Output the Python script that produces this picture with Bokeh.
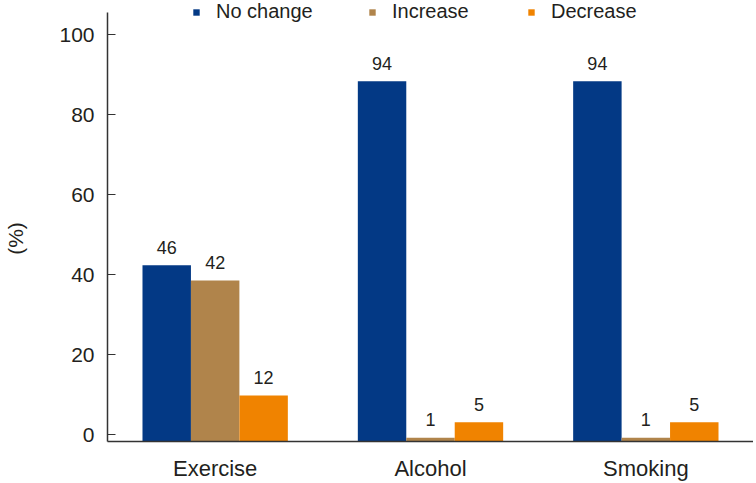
from bokeh.plotting import figure
from bokeh.models import ColumnDataSource, Range1d, FactorRange, Legend, LegendItem
from bokeh.transform import dodge
from bokeh.core.properties import value
from bokeh.embed import file_html
from bokeh.resources import INLINE

categories = ["Exercise", "Alcohol", "Smoking"]
series = ["No change", "Increase", "Decrease"]
no_change = [46, 94, 94]
increase = [42, 1, 1]
decrease = [12, 5, 5]
y_ticks = [0, 20, 40, 60, 80, 100]

colors = ["#033985", "#b0844b", "#f08300"]
FONT = "Liberation Sans"
TEXT = "#231f20"

src = ColumnDataSource(dict(
    cat=categories,
    nochange=no_change, increase=increase, decrease=decrease,
    nochange_lbl=[str(v) for v in no_change],
    increase_lbl=[str(v) for v in increase],
    decrease_lbl=[str(v) for v in decrease],
))

p = figure(width=753, height=483,
           x_range=FactorRange(*categories, range_padding=0),
           y_range=Range1d(-1.675, 108.575),
           output_backend="svg", toolbar_location=None,
           min_border_left=107, min_border_right=0,
           min_border_top=0, min_border_bottom=42)
p.extra_y_ranges = {"bars": Range1d(0, 115.1)}
p.outline_line_color = None
p.xgrid.visible = False
p.ygrid.visible = False
p.background_fill_color = "white"
p.border_fill_color = "white"

cols = ["nochange", "increase", "decrease"]
offsets = [-0.225, 0.0, 0.225]
renderers = []
for col, off, c in zip(cols, offsets, colors):
    r = p.vbar(x=dodge("cat", off, range=p.x_range), top=col, width=0.225,
               source=src, fill_color=c, line_color=None, y_range_name="bars")
    renderers.append(r)
    p.text(x=dodge("cat", off, range=p.x_range), y=col, text=col + "_lbl",
           source=src, y_range_name="bars", text_align="center",
           text_baseline="alphabetic", y_offset=-18,
           text_font=value(FONT), text_font_size="18px", text_color=TEXT)

# axes
p.xaxis.major_tick_line_color = None
p.xaxis.minor_tick_line_color = None
p.xaxis.axis_line_color = "#333333"
p.xaxis.axis_line_width = 1.5
p.xaxis.major_label_text_font = FONT
p.xaxis.major_label_text_font_size = "22px"
p.xaxis.major_label_text_color = TEXT
p.xaxis.major_label_standoff = 8

p.yaxis.ticker = y_ticks
p.yaxis.bounds = (-1.675, 105.575)
p.yaxis.major_tick_in = 8
p.yaxis.major_tick_out = 0
p.yaxis.minor_tick_line_color = None
p.yaxis.axis_line_color = "#333333"
p.yaxis.axis_line_width = 1.5
p.yaxis.major_tick_line_color = "#333333"
p.yaxis.major_tick_line_width = 1
p.yaxis.major_label_text_font = FONT
p.yaxis.major_label_text_font_size = "21px"
p.yaxis.major_label_text_color = TEXT
p.yaxis.major_label_standoff = 13
# trailing no-break spaces nudge the visible "(%)" a little lower along the axis
p.yaxis.axis_label = "(%)" + "\u00a0" * 6
p.yaxis.axis_label_text_font = FONT
p.yaxis.axis_label_text_font_size = "21px"
p.yaxis.axis_label_text_font_style = "normal"
p.yaxis.axis_label_text_color = TEXT
p.yaxis.axis_label_standoff = 29

# legends: one per series, positioned along the top
leg_x = [85, 261, 420]
for s, r, lx in zip(series, renderers, leg_x):
    leg = Legend(items=[LegendItem(label=s, renderers=[r])],
                 location=(lx, 418), orientation="horizontal",
                 background_fill_alpha=0, border_line_color=None,
                 padding=0, margin=0, spacing=0,
                 glyph_width=8, glyph_height=8, label_height=8,
                 label_standoff=16,
                 label_text_font=FONT, label_text_font_size="20px",
                 label_text_color=TEXT, label_text_baseline="alphabetic")
    p.add_layout(leg)

open("out.html", "w").write(file_html(p, INLINE))
